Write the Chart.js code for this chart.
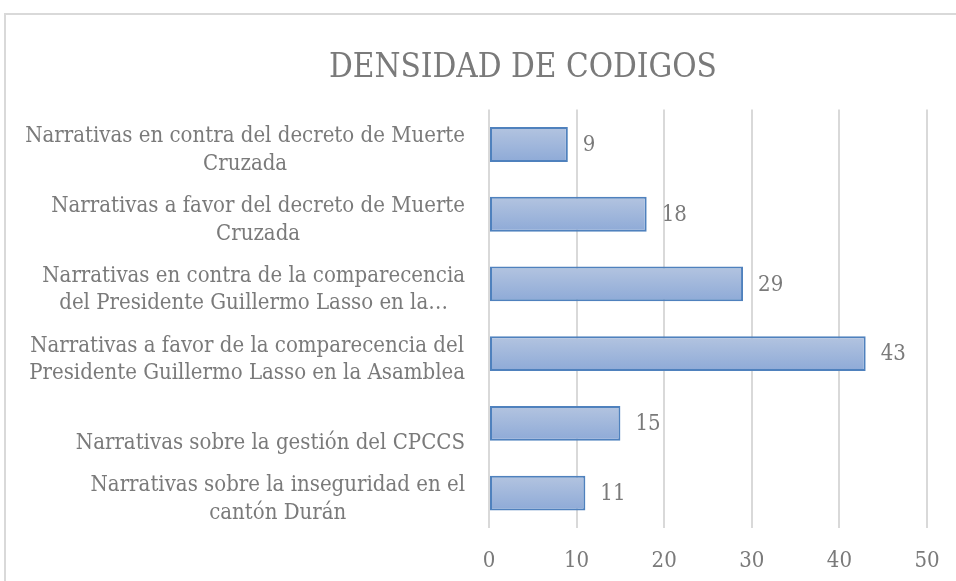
<!DOCTYPE html>
<html>
<head>
<meta charset="utf-8">
<script src="https://cdn.jsdelivr.net/npm/chart.js@4"></script>
<style>
html,body{margin:0;padding:0;background:#fff;overflow:hidden;width:956px;height:581px;}
#frame{position:absolute;left:4px;top:13px;width:1100px;height:1100px;border:2px solid #d9d9d9;box-sizing:border-box;}
#wrap{position:absolute;left:0;top:0;width:956px;height:581px;}
</style>
</head>
<body>
<div id="frame"></div>
<div id="wrap"><canvas id="c" width="956" height="581"></canvas></div>
<script>
const chartTitle = "DENSIDAD DE CODIGOS";
const categories = [
  ["Narrativas en contra del decreto de Muerte", "Cruzada"],
  ["Narrativas a favor del decreto de Muerte", "Cruzada"],
  ["Narrativas en contra de la comparecencia", "del Presidente Guillermo Lasso en la…"],
  ["Narrativas a favor de la comparecencia del", "Presidente Guillermo Lasso en la Asamblea"],
  ["Narrativas sobre la gestión del CPCCS"],
  ["Narrativas sobre la inseguridad en el", "cantón Durán"]
];
const values = [9, 18, 29, 43, 15, 11];
const xTicks = [0, 10, 20, 30, 40, 50];

const FONT = '"DejaVu Serif Condensed", "DejaVu Serif", serif';
const TEXT = '#7a7a7a';

function barGradient(ctx) {
  const chart = ctx.chart;
  const y = chart.scales && chart.scales.y;
  if (!chart.chartArea || !y || ctx.dataIndex === undefined) return '#a0b6dc';
  const c = y.getPixelForValue(ctx.dataIndex);
  const band = (y.bottom - y.top) / categories.length;
  const half = band * 0.5 / 2;
  const g = chart.ctx.createLinearGradient(0, c - half, 0, c + half);
  g.addColorStop(0, '#b3c4e0');
  g.addColorStop(1, '#8eaad7');
  return g;
}

const labelPlugin = {
  id: 'customLabels',
  afterDatasetsDraw(chart) {
    const ctx = chart.ctx;
    const y = chart.scales.y;
    const meta = chart.getDatasetMeta(0);
    ctx.save();
    ctx.font = '22px ' + FONT;
    ctx.fillStyle = TEXT;
    ctx.textAlign = 'left';
    ctx.textBaseline = 'middle';
    meta.data.forEach((el, i) => {
      ctx.fillText(String(values[i]), el.x + 15, el.y + 1);
    });
    const lineH = 27.5;
    const rightEdge = chart.chartArea.left - 24;
    categories.forEach((lines, i) => {
      const tick = y.getPixelForValue(i);
      const w = Math.max(...lines.map(l => ctx.measureText(l).width));
      const cx = rightEdge - w / 2;
      ctx.textAlign = 'center';
      const nSlots = Math.max(2, lines.length);
      const first = nSlots - lines.length;
      for (let k = 0; k < lines.length; k++) {
        const slot = first + k;
        const yy = tick + 6 + (slot - (nSlots - 1) / 2) * lineH;
        ctx.fillText(lines[k], cx, yy);
      }
    });
    ctx.restore();
  }
};

new Chart(document.getElementById('c'), {
  type: 'bar',
  data: {
    labels: categories,
    datasets: [{
      data: values,
      backgroundColor: barGradient,
      borderColor: '#4f81bd',
      borderWidth: 2,
      borderSkipped: false,
      barPercentage: 0.5,
      categoryPercentage: 1.0
    }]
  },
  options: {
    indexAxis: 'y',
    responsive: false,
    animation: false,
    devicePixelRatio: 1,
    layout: { padding: { left: 119, right: 29, top: 14, bottom: 0 } },
    plugins: {
      legend: { display: false },
      tooltip: { enabled: false },
      title: {
        display: true,
        text: chartTitle,
        color: TEXT,
        font: { family: FONT, size: 33, weight: 'normal' },
        padding: { top: 35, bottom: 21 }
      }
    },
    scales: {
      x: {
        min: 0, max: 50,
        afterBuildTicks(scale) { scale.ticks = xTicks.map(v => ({ value: v })); },
        afterFit(scale) {
          scale.height = 53;
          scale.paddingLeft = 0; scale.paddingRight = 0;
          scale.paddingTop = 0; scale.paddingBottom = 0;
        },
        grid: { color: '#d9d9d9', lineWidth: 2, drawTicks: false },
        border: { display: false },
        ticks: { color: TEXT, font: { family: FONT, size: 22 }, padding: 20, maxRotation: 0, minRotation: 0, autoSkip: false }
      },
      y: {
        grid: { display: false, drawTicks: false },
        border: { display: false },
        ticks: { display: false },
        afterFit(scale) { scale.width = 370; }
      }
    }
  },
  plugins: [labelPlugin]
});
</script>
</body>
</html>
